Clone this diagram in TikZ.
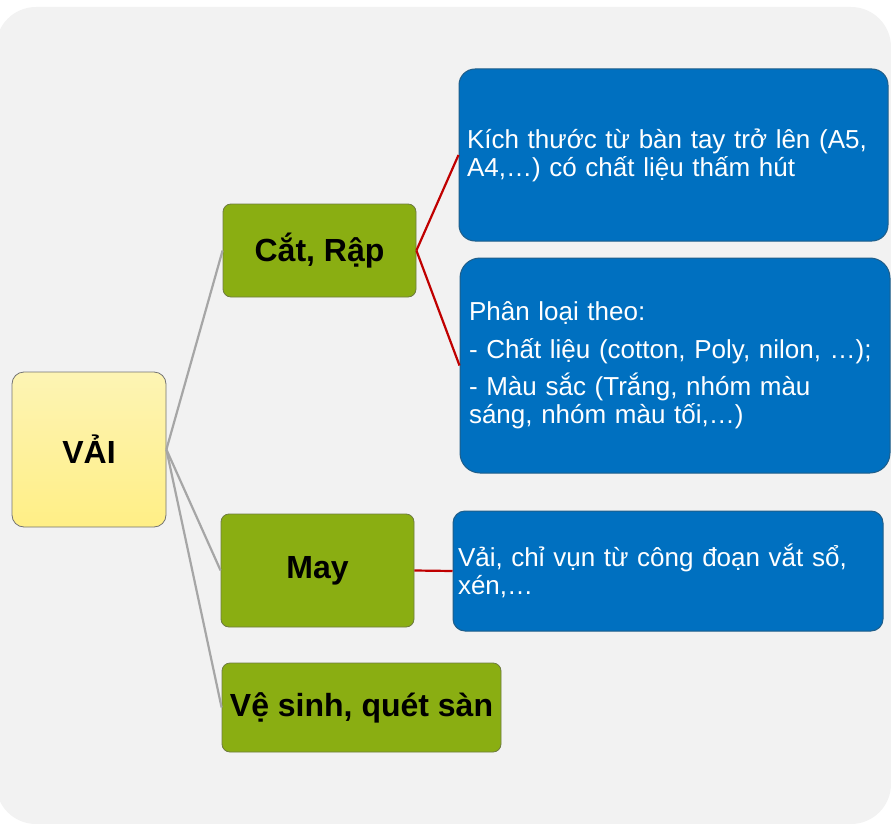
\documentclass[tikz,border=0pt]{standalone}
\usepackage{fontspec}
\setmainfont{Liberation Sans}
\definecolor{bgc}{HTML}{F2F2F2}
\definecolor{greenc}{HTML}{8AAE12}
\definecolor{greenb}{HTML}{4A5A10}
\definecolor{bluec}{HTML}{0070C0}
\definecolor{blueb}{HTML}{1F5E8A}
\definecolor{yelt}{HTML}{FDF4B4}
\definecolor{yelb}{HTML}{FFEF86}
\definecolor{linec}{HTML}{A6A6A6}
\definecolor{redc}{HTML}{C00000}
\begin{document}
\begin{tikzpicture}[x=1pt,y=-1pt,
  rootbox/.style={draw=black!55, line width=0.8pt, rounded corners=12pt, top color=yelt, bottom color=yelb,
    inner sep=0pt, font=\fontsize{32}{36}\selectfont\bfseries, text=black},
  greenbox/.style={draw=greenb!80, line width=0.8pt, fill=greenc, rounded corners=8pt,
    inner sep=0pt, font=\fontsize{32}{36}\selectfont\bfseries, text=black},
  bluebox/.style={draw=blueb, line width=1pt, fill=bluec, rounded corners=16pt,
    inner xsep=8pt, inner ysep=0pt, align=left, text=white, font=\fontsize{26}{28}\selectfont},
  grayline/.style={draw=linec, line width=2.2pt},
  redline/.style={draw=redc, line width=2.2pt}]
\useasboundingbox (0,0) rectangle (891,824);
\fill[bgc, rounded corners=40pt] (-4,7) rectangle (891,824);

\node[rootbox, minimum width=154pt, minimum height=155pt] (vai) at (89,449.5) {VẢI};
\node[greenbox, minimum width=193pt, minimum height=93pt] (cat) at (319.5,250.5) {Cắt, Rập};
\node[greenbox, minimum width=193pt, minimum height=113pt] (may) at (317.5,570.5) {May};
\node[greenbox, minimum width=279pt, minimum height=89pt] (vs) at (361.5,707.5) {Vệ sinh, quét sàn};

\node[bluebox, minimum width=429pt, minimum height=172pt, text width=413pt] (b1) at (673.5,155)
  {Kích thước từ bàn tay trở lên (A5,\\A4,…) có chất liệu thấm hút};
\node[bluebox, rounded corners=20pt, minimum width=430pt, minimum height=215pt, text width=412pt, inner xsep=9pt] (b2) at (675,365.5)
  {Phân loại theo:\\[10pt]- Chất liệu (cotton, Poly, nilon, …);\\[9pt]- Màu sắc (Trắng, nhóm màu\\sáng, nhóm màu tối,…)};
\node[bluebox, rounded corners=12pt, minimum width=430pt, minimum height=120pt, text width=420pt, inner xsep=5pt] (b3) at (668,571)
  {Vải, chỉ vụn từ công đoạn vắt sổ,\\xén,…};

\draw[grayline] (vai.east) -- (cat.west);
\draw[grayline] (vai.east) -- (may.west);
\draw[grayline] (vai.east) -- (vs.west);
\draw[redline] (cat.east) -- (b1.west);
\draw[redline] (cat.east) -- (b2.west);
\draw[redline] (may.east) -- (b3.west);
\end{tikzpicture}
\end{document}
